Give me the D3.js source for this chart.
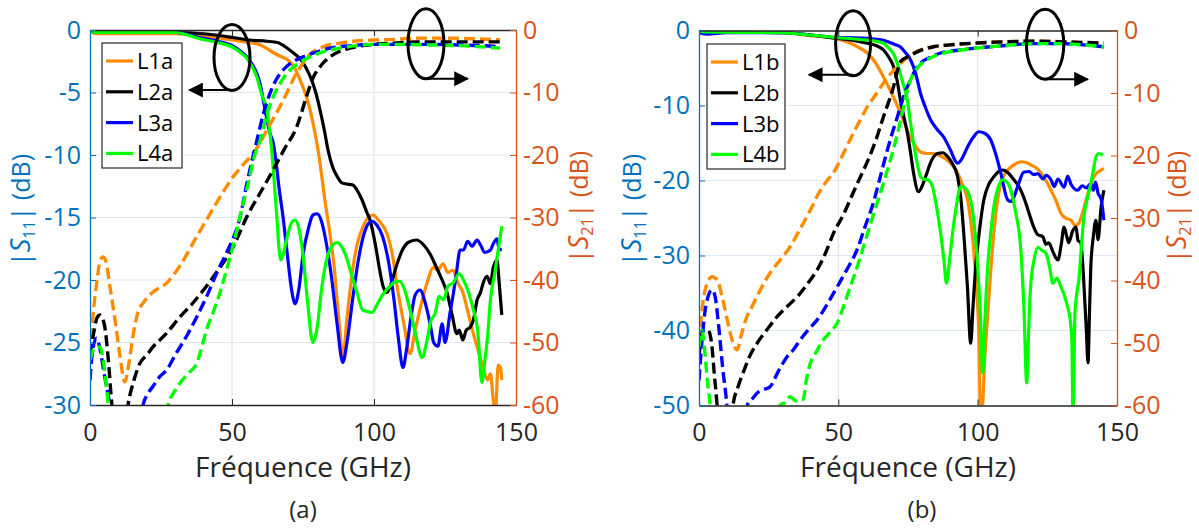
<!DOCTYPE html>
<html><head><meta charset="utf-8">
<script src="https://cdn.jsdelivr.net/npm/d3@7"></script>
<style>
html,body{margin:0;padding:0;background:#fff;}
svg{display:block;font-family:"Open Sans",sans-serif;}
</style></head>
<body><svg id="c" width="1199" height="529"></svg>
<script>
// ---------- DATA ----------
const xTicks = [0, 50, 100, 150];
const s11TicksA = [0, -5, -10, -15, -20, -25, -30];
const s11TicksB = [0, -10, -20, -30, -40, -50];
const s21Ticks = [0, -10, -20, -30, -40, -50, -60];
const seriesNamesA = ["L1a", "L2a", "L3a", "L4a"];
const seriesNamesB = ["L1b", "L2b", "L3b", "L4b"];
const seriesColors = ["#ff8c00", "#000000", "#0000ff", "#00ff00"];

// panel (a) |S11| solid, [GHz, dB]
const L1a_S11 = [[0,0],[2,-0.3],[10,-0.3],[20,-0.3],[30,-0.3],[40,-0.5],[50,-0.8],[56,-1.0],[60,-1.2],[64.5,-1.8],[67,-2.1],[69.7,-2.4],[72,-3.0],[74,-4],[76,-5.2],[77.5,-6.4],[79,-8],[80.3,-9.6],[81.5,-11.5],[82.7,-13.6],[84.5,-16.3],[86,-19],[87,-21.6],[88,-24],[89,-26.2],[90.5,-23],[92.6,-19],[94,-17.2],[96,-15.8],[98,-15],[99.7,-14.8],[101.5,-15.2],[104.6,-16.3],[106.5,-18],[108,-20.3],[110.5,-23.5],[112.7,-25.9],[114.5,-24],[117,-21.6],[119,-20],[120.8,-19],[122.5,-19.2],[124.3,-18.7],[126,-19.4],[127.8,-19.2],[129.5,-20.2],[131.3,-21],[133,-22.5],[135,-24.3],[136.5,-25.5],[138.4,-27],[140,-28],[141,-27.5],[142,-29.6],[142.8,-30.5],[143.7,-26.8],[144.5,-27],[145,-28]];
const L2a_S11 = [[0,0],[2,-0.2],[30,-0.2],[40,-0.3],[50.4,-0.6],[56,-0.8],[62.3,-0.9],[66,-1.0],[69.7,-1.5],[72,-1.9],[74,-2.3],[76,-3],[77.5,-3.7],[79.5,-5],[81,-6.4],[82.5,-8],[83.8,-9.6],[85.5,-11],[87,-11.7],[88.5,-12.2],[89.8,-12.3],[92.6,-12.4],[94,-12.8],[95.8,-13.6],[97.5,-14.6],[98.6,-15.2],[100.5,-17.2],[102,-19.2],[103.2,-20.5],[104.6,-21],[106,-20.3],[108,-18.8],[110,-17.6],[112,-17],[115,-16.8],[117.5,-17.2],[119.7,-17.9],[122,-19],[124,-20],[125.7,-21],[127.5,-22.8],[129.2,-24.3],[130,-24],[131.3,-24.8],[132.5,-24],[133.8,-23.8],[135,-23.2],[136.3,-21.6],[137.5,-21],[138.5,-20.2],[139.8,-19.7],[141,-20.3],[142,-19],[143.3,-18.4],[144,-20],[145,-22.8]];
const L3a_S11 = [[0,0],[2,-0.2],[30,-0.2],[38.7,-0.6],[45,-0.9],[50.4,-1.3],[53,-1.7],[55,-2.1],[57,-2.7],[58.8,-3.5],[60,-4.4],[61,-5.6],[62,-6.8],[63.4,-8.3],[64.5,-9],[65.5,-10.5],[66.5,-12.5],[68,-15],[69.5,-18],[71,-20.8],[72.2,-21.9],[73.5,-20.8],[75,-18],[77,-15.8],[78.5,-14.8],[80,-14.7],[81.5,-15.3],[83,-16.8],[85,-19.7],[87,-23.5],[89,-26.6],[90.5,-25],[92.5,-21.5],[94.5,-18.4],[96.5,-16.3],[98,-15.5],[99.3,-15.3],[101,-15.6],[103,-16.5],[105,-18.4],[107,-21.5],[108.5,-24.5],[110.2,-27],[111.5,-25.5],[113,-23],[114.5,-21.2],[116.2,-20.8],[118,-21.8],[120,-23.8],[121,-25],[122.5,-25.3],[124,-23.5],[125,-25],[126.8,-22.6],[128,-21],[129,-19.5],[130.3,-17.6],[131.5,-17.6],[133,-16.9],[134.5,-17.3],[136.3,-16.8],[137.5,-17.2],[139,-17.8],[141,-17.6],[142,-17.1],[143.3,-16.7],[144,-17.5],[145,-17.6]];
const L4a_S11 = [[0,0],[2,-0.2],[30,-0.2],[38.7,-0.7],[45,-1.0],[50.4,-1.4],[53,-1.8],[55,-2.2],[57,-2.9],[58.8,-3.8],[60.5,-5.2],[62.3,-6.4],[63.5,-8.5],[64.5,-11],[65.8,-15],[66.5,-17.3],[67.2,-18.4],[68,-18],[69.5,-16.5],[71,-15.4],[72.2,-15.2],[73.5,-15.8],[75,-18],[76.5,-21.5],[78.5,-25],[80,-23.8],[81.5,-20.8],[83.5,-18.2],[85.5,-17.2],[87,-17],[88.5,-17.3],[90,-18],[92,-19.5],[94,-21],[96,-22.4],[97.5,-22.5],[99.3,-22.6],[101,-22],[103,-21.2],[105.6,-20.5],[107,-20.2],[109,-20.1],[110.5,-20.6],[112.7,-22.4],[114.5,-24.2],[117,-26.2],[118.5,-25],[120,-23.3],[121.5,-22.7],[123,-21.3],[124.5,-21.6],[126,-20.5],[128,-20.2],[130,-19.5],[131.5,-20],[133,-20.8],[135,-22.4],[136.5,-24],[138,-28.2],[139,-26.5],[140,-24.5],[141,-21.6],[142.5,-19.5],[144,-17.2],[145,-15.7]];

// panel (a) |S21| dashed, [GHz, dB]
const L1a_S21 = [[0,-52],[1,-46],[2.5,-40],[3.5,-37],[4.6,-36.3],[5.6,-37],[7,-41],[9,-47],[10.5,-52],[12.3,-56.3],[13.8,-53],[15.5,-48],[17,-45],[18.7,-43.7],[22,-42],[27,-40.5],[32,-37.5],[37,-33.5],[41,-30.4],[45,-27.3],[50.4,-23.5],[54,-21.5],[57.5,-19.7],[60,-18],[62.3,-16],[66,-13],[69.3,-10.1],[72,-7.5],[74,-6],[76,-4.6],[78.5,-3.5],[82,-2.7],[88,-2.1],[93,-1.8],[99.7,-1.6],[107,-1.5],[115,-1.3],[125,-1.3],[135,-1.4],[144.4,-1.6]];
const L2a_S21 = [[0,-52],[1.5,-48],[2.5,-46],[3.5,-45.6],[5,-47],[6.5,-53],[7.7,-60],[8.5,-63],[12.5,-63],[13.4,-60],[15.5,-56],[17.6,-53.3],[20,-52],[22.2,-50.7],[27,-48.5],[31.7,-45.9],[36,-43.8],[41,-41],[45,-38.5],[50.4,-34.7],[55.2,-29.9],[60,-26],[64.5,-22.4],[68.5,-19],[72.8,-15.5],[76,-11],[78.5,-7.7],[81.5,-5.6],[84.5,-4.3],[88,-3.4],[91.5,-2.9],[99.7,-2.3],[107,-2.1],[115,-1.9],[125,-1.9],[135,-1.9],[144.4,-1.9]];
const L3a_S21 = [[0,-56],[1,-51],[2.3,-49.3],[3.5,-51],[5,-55],[7,-60],[8,-63],[18,-63],[18.7,-60],[20,-58.5],[22.2,-57],[24.5,-55.5],[27,-54.4],[30,-52],[34,-49],[37.5,-46],[41,-42.7],[45,-38.5],[48,-35.7],[52.8,-30],[55.5,-24],[58.8,-17.6],[61,-13.5],[63.4,-10.1],[65.5,-8],[68,-6.4],[71,-5.2],[75,-4.3],[80,-3.5],[84.5,-2.9],[92,-2.5],[99.7,-2.3],[110,-2.3],[120,-2.3],[130,-2.4],[138,-2.5],[144.4,-2.7]];
const L4a_S21 = [[0,-52.8],[1.5,-51],[3.5,-50.7],[5,-54],[6.5,-60],[7.5,-63],[26.5,-63],[27.5,-60],[29.5,-58],[31.7,-56.5],[34.5,-55],[37.6,-53.3],[39.5,-50.5],[41,-48],[43.5,-45],[45.8,-42],[48,-38.5],[50.4,-34.5],[53,-29.5],[56,-24],[58,-20],[60,-17.6],[62,-14],[64.5,-10.7],[67,-8.5],[70.4,-6.4],[73.5,-5.3],[77.5,-4.3],[82,-3.5],[88,-2.9],[94,-2.5],[99.7,-2.3],[110,-2.3],[120,-2.4],[130,-2.5],[138,-2.7],[144.4,-2.9]];

// panel (b) |S11| solid
const L1b_S11 = [[0,0],[2,-0.2],[30,-0.3],[40,-0.7],[48,-1.0],[54.3,-1.7],[57.5,-2.3],[60.4,-3],[63.5,-4.4],[66.2,-6.2],[68,-7.5],[69.8,-8.9],[72.3,-11],[74,-12.5],[75.5,-14],[77,-15],[79.5,-16.2],[82,-16.4],[84.2,-16.4],[86.5,-16.7],[89.2,-17.3],[91,-18],[92.8,-19],[94.5,-20.5],[96.4,-22.6],[97.7,-26],[98.6,-29.3],[99.5,-34],[100.4,-40.3],[101,-50.5],[101.6,-50.5],[102.5,-44],[103.6,-38],[104.7,-32],[105.8,-27],[107,-23],[108.3,-20.3],[110,-19],[111.9,-18.2],[113.5,-17.8],[115.5,-17.5],[117.5,-17.6],[119,-17.9],[121,-18.3],[122.7,-19],[124.5,-20],[126.3,-21.3],[128,-22.6],[129.9,-24.4],[131.5,-25],[133.5,-25.3],[135,-26],[136.3,-25.7],[137.5,-24.5],[139.6,-21.7],[141.7,-19.5],[143.5,-18.8],[145.3,-18.4]];
const L2b_S11 = [[0,0],[2,-0.2],[30,-0.3],[40,-0.6],[48.2,-1.0],[55,-1.3],[60.4,-1.7],[63.5,-2],[66.2,-2.6],[68,-3.5],[69.8,-4.8],[71,-6.5],[72.3,-9.3],[73.5,-11.5],[74.8,-13.7],[76,-16.5],[77,-19],[78.8,-21.5],[80,-20.8],[81.3,-19.5],[83.5,-17.3],[85.6,-16.4],[87.5,-16.3],[89.2,-16.8],[91,-17.8],[92.8,-19.5],[94,-22.5],[95,-27],[96.3,-34],[97.5,-41.7],[98.3,-37],[99.3,-31.5],[100.7,-26.5],[102.2,-22.6],[104,-20.5],[105.8,-19.5],[107.5,-18.8],[109,-18.6],[111,-19],[113,-19.9],[114.8,-20.8],[116.5,-22.2],[118.3,-24.2],[120.1,-26.2],[121.5,-27.2],[123.4,-27.5],[124.5,-28.5],[125.5,-28.3],[127,-29.5],[128.8,-30.6],[130,-28.5],[131,-26.2],[132,-27.5],[132.7,-28.3],[134,-26.8],[135.3,-26.2],[136,-28],[137,-28.3],[138,-33],[139,-40],[139.6,-44.3],[140.1,-38],[140.6,-31.5],[141.5,-27.5],[142.4,-25.3],[143.2,-27.9],[144.3,-23.5],[145.3,-21.3]];
const L3b_S11 = [[0,0],[1,-0.4],[3,-0.5],[10,-0.3],[30,-0.3],[40,-0.6],[48,-0.9],[58,-1.0],[62,-1.1],[66.2,-1.3],[68.5,-1.6],[70.5,-1.9],[72.3,-2.2],[74,-2.9],[75.9,-3.9],[77.8,-5.8],[79.5,-8.4],[81.3,-10.3],[83.1,-11.9],[85.5,-13.2],[87.8,-14.2],[90.3,-16],[92,-17.4],[92.8,-17.7],[94.5,-17],[96.4,-15.5],[98.5,-14.2],[100.4,-13.5],[102.5,-13.7],[104.7,-14.6],[106.5,-16.5],[108.3,-19],[110.8,-22.6],[112,-22.8],[113,-22.2],[114.8,-20.3],[116.5,-18.9],[118.5,-18.8],[120,-19.2],[121.6,-19.1],[123.5,-19.8],[124.5,-19.3],[126.3,-19.9],[127.5,-20.8],[128.8,-19.8],[131,-20.9],[132.3,-19.4],[133.5,-20.5],[135.9,-21.3],[137.5,-20.7],[139,-21],[140.6,-20.4],[141.5,-21.3],[142.3,-20.2],[143.2,-21.7],[144.3,-22.5],[145.3,-25.3]];
const L4b_S11 = [[0,0],[2,-0.2],[30,-0.3],[40,-0.6],[48,-0.9],[58,-1.2],[63,-1.4],[66.2,-1.7],[68,-2.3],[69.8,-3.1],[71.5,-4.8],[73,-6.8],[74.8,-9.3],[75.8,-12],[77,-15],[78.2,-17.5],[79.5,-19.5],[80.5,-19.8],[82,-19.9],[83,-20.2],[83.8,-20.8],[85,-23],[86.7,-27],[88,-31],[88.8,-33.7],[89.8,-31],[91,-27],[92.4,-23.3],[93.9,-20.8],[95.5,-21],[97.5,-22.6],[98.8,-26],[100,-31.5],[101,-38],[101.8,-45.7],[102.6,-38.5],[103.6,-31.5],[104.7,-27],[105.8,-23.5],[107.3,-21],[109,-19.9],[110.5,-20.2],[111.9,-21.3],[113.5,-24],[115.5,-29.3],[116.6,-37],[117.6,-47],[118.3,-40],[119,-34.2],[120.3,-30.5],[121.6,-28.9],[123,-29.3],[124.5,-29.7],[125.8,-31.5],[127,-33.7],[128.5,-33],[129.9,-34.2],[131,-35.2],[132.3,-36.9],[133.2,-38.5],[133.8,-41.3],[134.2,-51],[134.6,-44],[134.9,-37.7],[135.6,-35],[136.3,-33.3],[137.2,-29],[138.1,-24.9],[139.3,-22.5],[140.6,-20.4],[141.5,-18.7],[142.4,-16.9],[143.5,-16.4],[145,-16.6]];

// panel (b) |S21| dashed
const L1b_S21 = [[0,-50],[1,-45],[2.5,-41],[4.7,-39.4],[6.5,-39.9],[8.5,-43],[10.5,-47],[12.2,-50],[13.7,-51.1],[15,-49],[17,-46],[19,-44.2],[22,-41.5],[25.5,-38.8],[29,-36.8],[32.7,-34.6],[36,-32],[40,-28.7],[43,-26],[46,-24],[48.2,-22.8],[52,-19.5],[55.4,-16.4],[58,-14.2],[60.4,-12.2],[63.5,-10.2],[66.2,-8.4],[69,-6.8],[71.2,-5.8],[74,-4.6],[76.5,-3.8],[79.5,-3.1],[84,-2.6],[90.3,-2.3],[100,-2],[110,-1.8],[120,-1.7],[130,-1.8],[138,-2],[144,-2.3]];
const L2b_S21 = [[0,-52],[1.4,-48],[3.2,-47.9],[4.5,-50],[5.5,-55],[6.5,-60],[7,-63],[11.8,-63],[12.2,-60],[14,-57],[15.8,-54.8],[18,-52.3],[20.9,-50],[24.5,-47.8],[28,-45.8],[32,-44],[35.3,-42.6],[39,-40.5],[42.4,-38.3],[45.5,-35.5],[48.2,-32.5],[51.8,-29.5],[54.5,-26.8],[56.8,-24.5],[60.4,-21],[63.5,-17.5],[66.2,-13.8],[68,-11.5],[69.8,-9],[71,-6.8],[72.3,-5],[74.5,-4.3],[77,-3.7],[80,-3.1],[84.2,-2.6],[90,-2.3],[100,-2],[110,-1.8],[120,-1.7],[130,-1.8],[138,-1.9],[145.3,-2]];
const L3b_S21 = [[0,-56],[1,-50],[2.5,-44],[4.7,-41.5],[5.8,-42.6],[7,-47],[8.5,-54],[10,-60],[10.5,-63],[16.5,-63],[17.3,-60],[19,-59],[20.9,-58],[23,-57.5],[25.5,-57],[28.5,-54.5],[31.6,-52.2],[34,-51],[36.3,-49.5],[39,-48],[42.4,-46.3],[46,-43.8],[49.6,-41],[53,-38.3],[56.8,-35],[59.5,-31.5],[62.6,-27.5],[65,-23.5],[67.6,-19.1],[69.5,-16.2],[71.2,-13.8],[72.3,-12.2],[74,-9.8],[75.9,-7.9],[77.5,-6.4],[79.5,-5.2],[83,-4.3],[86.7,-3.6],[92,-3.2],[100,-2.8],[110,-2.4],[120,-2.1],[130,-2.1],[138,-2.3],[145.3,-2.6]];
const L4b_S21 = [[0,-50.6],[1,-48],[2,-51],[3,-56],[4,-60],[4.5,-63],[28.5,-63],[29,-60],[31,-59.5],[32.7,-58.6],[35,-59.3],[37.4,-59],[38.5,-56],[39.9,-53.3],[42,-51.5],[44.6,-49.5],[47,-48.3],[49.6,-46.8],[52,-44],[54.3,-41],[57,-37.5],[59,-34.6],[61.5,-31],[64,-27.5],[66.5,-24],[68.7,-20.7],[70.5,-17.8],[72.3,-14.5],[74,-11],[75.9,-7.9],[78,-6.2],[80.6,-5],[84,-4.2],[87.8,-3.6],[93,-3.2],[100,-2.8],[110,-2.4],[120,-2.1],[130,-2.1],[138,-2.3],[145.3,-2.6]];

// ---------- DRAW ----------
const svg = d3.select("#c");
const BLUE = "#0072bd", ORANGE = "#d95319", INK = "#262626";
const defs = svg.append("defs");
defs.append("marker").attr("id","ah").attr("viewBox","0 0 10 10").attr("refX",9).attr("refY",5)
  .attr("markerUnits","userSpaceOnUse").attr("markerWidth",15).attr("markerHeight",15).attr("orient","auto")
  .append("path").attr("d","M0,0L10,5L0,10Z").attr("fill","#000");

function yTitle(g, x, y, sub, color) {
  const t = g.append("text").attr("transform",`translate(${x},${y}) rotate(-90)`)
    .attr("text-anchor","middle").attr("fill",color).attr("font-size",25);
  t.append("tspan").text("|");
  t.append("tspan").attr("font-style","italic").attr("font-size",27).text("S");
  t.append("tspan").attr("font-size",16).attr("dy",5).text(sub);
  t.append("tspan").attr("dy",-5).text("| (dB)");
}

function panel(cfg) {
  const g = svg.append("g");
  const x = d3.scaleLinear().domain([0,150]).range([cfg.x0,cfg.x1]);
  const yL = d3.scaleLinear().domain([cfg.s11Min,0]).range([cfg.yBot,cfg.yTop]);
  const yR = d3.scaleLinear().domain([-60,0]).range([cfg.yBot,cfg.yTop]);
  const clipId = "clip"+cfg.id;
  defs.append("clipPath").attr("id",clipId).append("rect")
    .attr("x",cfg.x0).attr("y",cfg.yTop).attr("width",cfg.x1-cfg.x0).attr("height",cfg.yBot-cfg.yTop);

  // grid
  g.append("g").selectAll("line").data(cfg.s11Ticks.filter(d=>d!==0 && d!==cfg.s11Min)).join("line")
    .attr("x1",cfg.x0).attr("x2",cfg.x1).attr("y1",d=>yL(d)).attr("y2",d=>yL(d))
    .attr("stroke","#dce8f4").attr("stroke-width",1.2);
  g.append("g").selectAll("line").data(xTicks.filter(d=>d>0&&d<150)).join("line")
    .attr("y1",cfg.yTop).attr("y2",cfg.yBot).attr("x1",d=>x(d)).attr("x2",d=>x(d))
    .attr("stroke","#e2e4e8").attr("stroke-width",1.2);

  // lines
  const lineL = d3.line().x(d=>x(d[0])).y(d=>yL(d[1])).curve(d3.curveMonotoneX);
  const lineR = d3.line().x(d=>x(d[0])).y(d=>yR(d[1])).curve(d3.curveMonotoneX);
  const lg = g.append("g").attr("clip-path",`url(#${clipId})`);
  cfg.s11.forEach((s,i)=>{
    lg.append("path").attr("d",lineL(s)).attr("fill","none").attr("stroke",seriesColors[i])
      .attr("stroke-width",3.2).attr("stroke-linejoin","round");
  });
  cfg.s21.forEach((s,i)=>{
    lg.append("path").attr("d",lineR(s)).attr("fill","none").attr("stroke",seriesColors[i])
      .attr("stroke-width",3.4).attr("stroke-dasharray","11,5");
  });

  // axes
  const fmt = d=>String(d);
  const ax = g.append("g").attr("transform",`translate(0,${cfg.yBot})`)
    .call(d3.axisBottom(x).tickValues(xTicks).tickSize(-6).tickSizeOuter(0).tickPadding(18).tickFormat(fmt));
  ax.select(".domain").attr("stroke",INK).attr("stroke-width",1.3);
  ax.selectAll(".tick line").attr("stroke",INK);
  ax.selectAll("text").attr("font-size",25).attr("fill",INK).attr("font-family","'Open Sans',sans-serif");
  const axTop = g.append("g").attr("transform",`translate(0,${cfg.yTop})`)
    .call(d3.axisTop(x).tickValues(xTicks).tickSize(-6).tickSizeOuter(0).tickFormat(""));
  axTop.select(".domain").attr("stroke",INK).attr("stroke-width",1.3);
  axTop.selectAll(".tick line").attr("stroke",INK);

  const al = g.append("g").attr("transform",`translate(${cfg.x0},0)`)
    .call(d3.axisLeft(yL).tickValues(cfg.s11Ticks).tickSize(-6).tickSizeOuter(0).tickPadding(9).tickFormat(fmt));
  al.select(".domain").attr("stroke",BLUE).attr("stroke-width",1.3);
  al.selectAll(".tick line").attr("stroke",BLUE);
  al.selectAll("text").attr("font-size",25).attr("fill",BLUE).attr("font-family","'Open Sans',sans-serif");

  const ar = g.append("g").attr("transform",`translate(${cfg.x1},0)`)
    .call(d3.axisRight(yR).tickValues(s21Ticks).tickSize(-6).tickSizeOuter(0).tickPadding(7).tickFormat(fmt));
  ar.select(".domain").attr("stroke",ORANGE).attr("stroke-width",1.3);
  ar.selectAll(".tick line").attr("stroke",ORANGE);
  ar.selectAll("text").attr("font-size",25).attr("fill",ORANGE).attr("font-family","'Open Sans',sans-serif");

  // titles
  yTitle(g, cfg.yTitleL, 210, "11", BLUE);
  yTitle(g, cfg.yTitleR, 207, "21", ORANGE);
  g.append("text").attr("x",(cfg.x0+cfg.x1)/2).attr("y",477).attr("text-anchor","middle")
    .attr("font-size",28).attr("fill",INK).text("Fréquence (GHz)");
  g.append("text").attr("x",cfg.capX).attr("y",518).attr("text-anchor","middle")
    .attr("font-size",24).attr("fill",INK).text(cfg.caption);

  // legend
  const lgd = g.append("g");
  lgd.append("rect").attr("x",cfg.leg.x).attr("y",cfg.leg.y).attr("width",cfg.leg.w).attr("height",cfg.leg.h)
    .attr("fill","#fff").attr("stroke",INK).attr("stroke-width",1.2);
  cfg.names.forEach((n,i)=>{
    const yy = cfg.leg.y+18+i*30.8;
    lgd.append("line").attr("x1",cfg.leg.x+4).attr("x2",cfg.leg.x+31).attr("y1",yy).attr("y2",yy)
      .attr("stroke",seriesColors[i]).attr("stroke-width",3.2);
    lgd.append("text").attr("x",cfg.leg.x+35).attr("y",yy+8).attr("font-size",22).attr("fill","#000").text(n);
  });

  // annotations: ellipses + arrows
  cfg.notes.forEach(nt=>{
    const y = nt.axis==="L" ? yL : yR;
    const cx = x(nt.f), cy = y(nt.v), ay = y(nt.arrowV);
    g.append("ellipse").attr("cx",cx).attr("cy",cy).attr("rx",nt.rx).attr("ry",nt.ry)
      .attr("fill","none").attr("stroke","#000").attr("stroke-width",3);
    g.append("line").attr("x1",cx).attr("y1",ay).attr("x2",x(nt.tip)).attr("y2",ay)
      .attr("stroke","#000").attr("stroke-width",2).attr("marker-end","url(#ah)");
  });
}

panel({id:"a", x0:90, x1:516, yTop:30, yBot:405, s11Min:-30, s11Ticks:s11TicksA,
  s11:[L1a_S11,L2a_S11,L3a_S11,L4a_S11], s21:[L1a_S21,L2a_S21,L3a_S21,L4a_S21],
  names:seriesNamesA, yTitleL:30, yTitleR:588, capX:303, caption:"(a)",
  leg:{x:102,y:43,w:80,h:125},
  notes:[{axis:"L",f:50,v:-2.2,arrowV:-4.8,tip:35,rx:18,ry:33},
         {axis:"R",f:118.3,v:-2.2,arrowV:-7.8,tip:133,rx:18,ry:35}]});
panel({id:"b", x0:699, x1:1117, yTop:30.5, yBot:405.5, s11Min:-50, s11Ticks:s11TicksB,
  s11:[L1b_S11,L2b_S11,L3b_S11,L4b_S11], s21:[L1b_S21,L2b_S21,L3b_S21,L4b_S21],
  names:seriesNamesB, yTitleL:641, yTitleR:1186, capX:922, caption:"(b)",
  leg:{x:707,y:44,w:78,h:125},
  notes:[{axis:"L",f:55.3,v:-1.7,arrowV:-5.9,tip:39.5,rx:17.5,ry:32.5},
         {axis:"R",f:124.2,v:-2.2,arrowV:-7.8,tip:139.5,rx:18.7,ry:35}]});
</script></body></html>
